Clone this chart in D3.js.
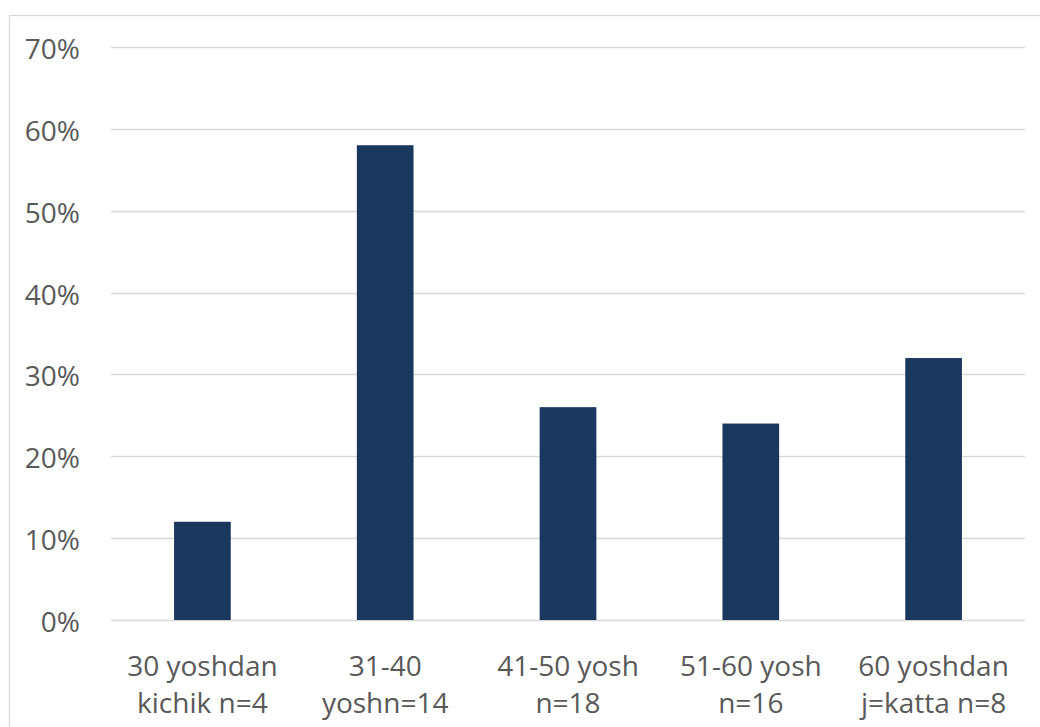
<!DOCTYPE html>
<html>
<head>
<meta charset="utf-8">
<script src="https://cdn.jsdelivr.net/npm/d3@7"></script>
<style>
  body { margin: 0; background: #fff; }
  svg { display: block; }
</style>
</head>
<body>
<svg id="chart"></svg>
<script>
// Age groups vs share, single series column chart
const categories = [
    ['30 yoshdan', 'kichik n=4'],
    ['31-40', 'yoshn=14'],
    ['41-50 yosh', 'n=18'],
    ['51-60 yosh', 'n=16'],
    ['60 yoshdan', 'j=katta n=8'],
];
const values = [0.12, 0.58, 0.26, 0.24, 0.32];
const yTicks = [0, 0.1, 0.2, 0.3, 0.4, 0.5, 0.6, 0.7];

const W = 1040, H = 727;
const FONT = '"Open Sans", "Liberation Sans", sans-serif';
const TEXT = '#595959';

const svg = d3.select('#chart').attr('width', W).attr('height', H);

// outer chart frame
svg.append('rect')
    .attr('x', 9.5).attr('y', 15.5)
    .attr('width', W + 10).attr('height', H + 10)
    .attr('fill', '#fff').attr('stroke', '#d9d9d9').attr('stroke-width', 1.3);

const plotL = 111, plotR = 1025, plotT = 47, plotB = 620;

const x = d3.scaleBand()
    .domain(d3.range(categories.length))
    .range([plotL, plotR])
    .paddingInner(0.69).paddingOuter(0.345);

const y = d3.scaleLinear().domain([0, 0.7]).range([plotB, plotT]);

// ── Gridlines ───────────────────────────────────────────────
svg.append('g').selectAll('line')
    .data(yTicks)
    .join('line')
    .attr('x1', plotL).attr('x2', plotR)
    .attr('y1', d => Math.round(y(d)) + 0.5)
    .attr('y2', d => Math.round(y(d)) + 0.5)
    .attr('stroke', '#d9d9d9').attr('stroke-width', 1.5);

// ── Y labels ───────────────────────────────────────────────
svg.append('g').selectAll('text')
    .data(yTicks)
    .join('text')
    .attr('x', 80).attr('y', d => y(d) + 1)
    .attr('text-anchor', 'end')
    .attr('dominant-baseline', 'central')
    .attr('fill', TEXT).attr('font-family', FONT).attr('font-size', '28px')
    .text(d => d3.format('.0%')(d));

// ── Bars ───────────────────────────────────────────────────
svg.append('g').selectAll('rect')
    .data(values)
    .join('rect')
    .attr('x', (d, i) => x(i))
    .attr('width', x.bandwidth())
    .attr('y', d => y(d))
    .attr('height', d => y(0) - y(d))
    .attr('fill', '#1a375e');

// ── X labels (two lines) ───────────────────────────────────
const xl = svg.append('g').selectAll('text')
    .data(categories)
    .join('text')
    .attr('text-anchor', 'middle')
    .attr('fill', TEXT).attr('font-family', FONT).attr('font-size', '28px');

xl.selectAll('tspan')
    .data((d, i) => d.map(line => ({ line, i })))
    .join('tspan')
    .attr('x', d => x(d.i) + x.bandwidth() / 2)
    .attr('y', (d, j) => 676 + j * 37)
    .text(d => d.line);
</script>
</body>
</html>
